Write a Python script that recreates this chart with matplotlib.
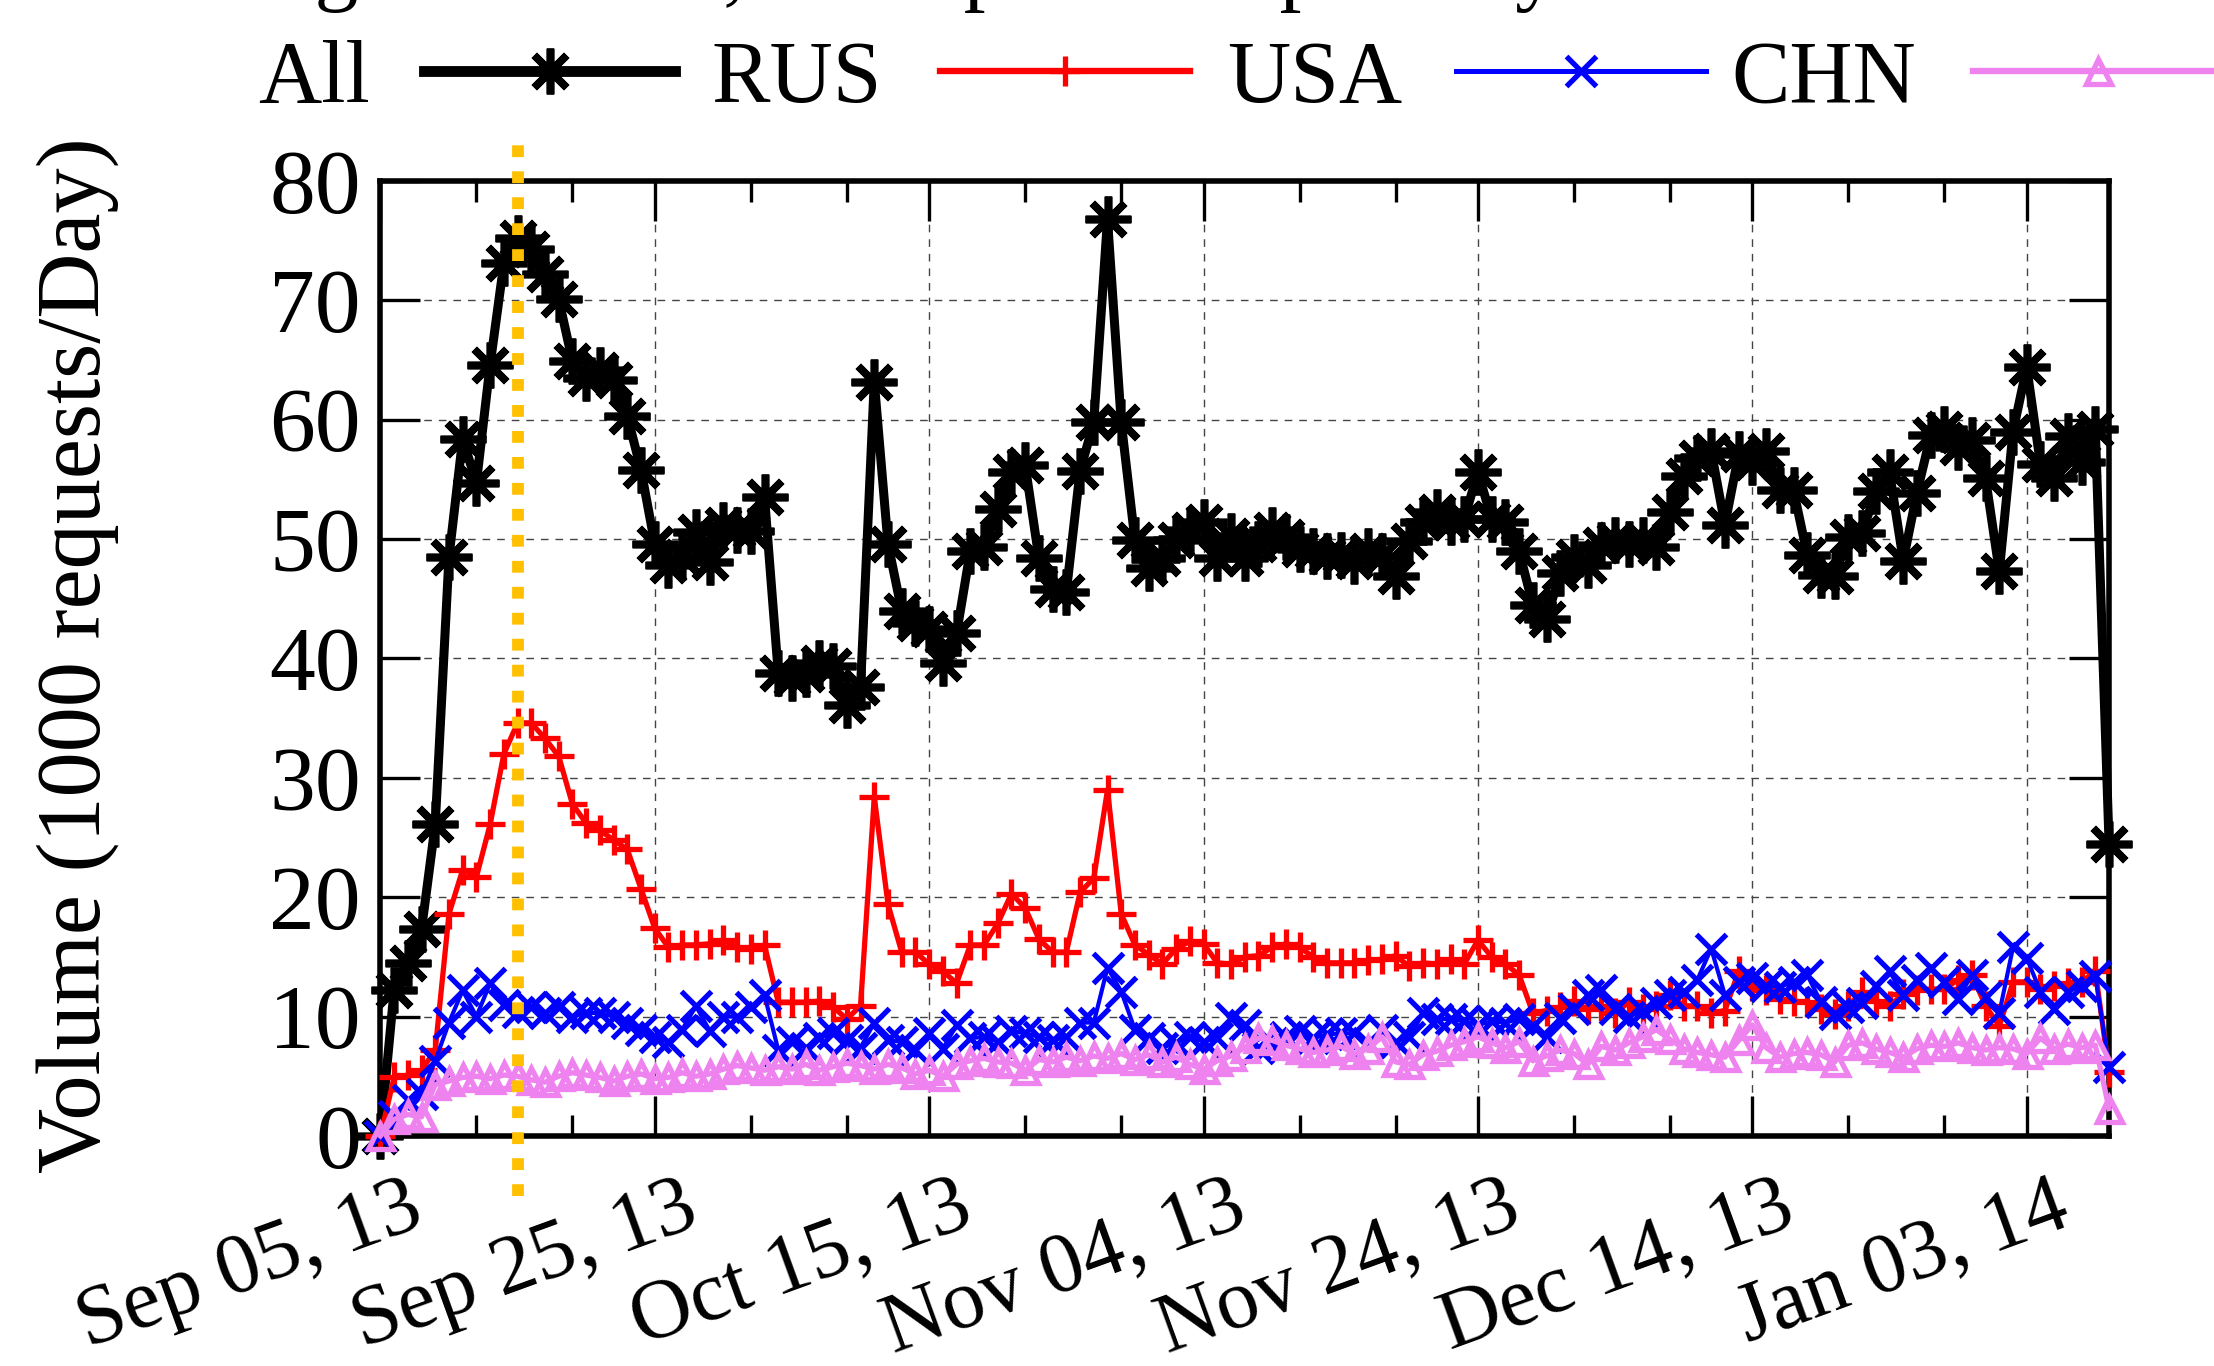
import pandas as pd
import matplotlib
matplotlib.use('Agg')
import matplotlib.pyplot as plt
from matplotlib.lines import Line2D
from matplotlib.transforms import ScaledTranslation

plt.rcParams['font.family'] = ['Liberation Serif', 'DejaVu Serif']

# daily volume, thousands of requests
days = pd.date_range('2013-09-05', '2014-01-09', freq='D')

all_vals = [0, 12.2, 14.5, 17.3, 26.1, 48.5, 58.4, 54.7, 64.6, 73.1,
            75.2, 74.3, 72.2, 70.1, 64.9, 63.5, 64.2, 63.3, 60.3, 55.8,
            49.6, 47.8, 48.5, 50.6, 48.1, 51.2, 50.8, 50.7, 53.5, 38.8,
            38.4, 38.7, 39.6, 39.4, 36.1, 37.6, 63.2, 49.6, 44.0, 43.0,
            42.5, 39.6, 42.1, 49.0, 49.3, 52.5, 55.6, 56.2, 48.4, 45.8,
            45.6, 55.7, 59.8, 76.8, 59.8, 49.9, 47.6, 48.4, 49.9, 50.8,
            51.4, 48.4, 50.3, 48.4, 49.6, 50.8, 50.2, 49.2, 49.0, 48.6,
            48.7, 48.2, 49.0, 48.6, 46.9, 49.8, 51.4, 52.3, 51.4, 51.7,
            55.6, 51.7, 51.4, 49.0, 44.5, 43.3, 47.2, 48.5, 47.8, 49.5,
            49.9, 49.6, 49.9, 49.3, 52.3, 55.3, 56.8, 57.4, 51.2, 57.1,
            56.5, 57.4, 54.1, 54.1, 48.7, 47.0, 46.9, 50.2, 50.5, 54.0,
            55.6, 48.2, 53.9, 58.7, 59.2, 57.7, 58.3, 55.1, 47.3, 59.0,
            64.4, 56.3, 55.1, 58.6, 56.5, 59.2, 24.5]

rus_vals = [0, 4.9, 5.1, 5.5, 7.2, 18.6, 22.3, 21.7, 26.1, 32.0,
            34.6, 34.6, 33.3, 31.8, 27.8, 26.2, 25.6, 24.8, 24.0, 20.7,
            17.4, 15.8, 16.0, 16.0, 16.1, 16.4, 15.8, 15.7, 16.0, 11.2,
            11.2, 11.2, 11.3, 10.8, 9.8, 10.9, 28.4, 19.4, 15.4, 15.4,
            14.4, 13.8, 12.8, 16.0, 16.0, 17.8, 20.3, 19.1, 16.5, 15.4,
            15.4, 20.4, 21.6, 29.0, 18.6, 16.0, 15.2, 14.4, 15.7, 16.3,
            16.1, 14.5, 14.4, 15.0, 15.1, 15.8, 16.1, 15.8, 15.0, 14.5,
            14.5, 14.5, 14.7, 14.8, 15.1, 14.2, 14.5, 14.4, 14.8, 14.4,
            16.4, 15.0, 14.4, 13.5, 10.3, 10.5, 10.8, 11.3, 10.6, 10.9,
            10.3, 11.2, 10.6, 10.9, 11.8, 10.9, 10.9, 10.3, 10.5, 13.8,
            12.6, 12.2, 11.5, 11.3, 11.2, 10.6, 10.2, 10.9, 12.1, 11.3,
            10.9, 11.9, 12.2, 12.3, 12.3, 13.1, 13.5, 10.9, 9.2, 12.9,
            12.9, 12.3, 12.6, 12.8, 12.9, 13.8, 5.4]

usa_vals = [0, 1.7, 3.0, 3.5, 6.3, 9.5, 12.2, 10.0, 12.8, 11.0,
            10.4, 10.8, 10.3, 10.8, 10.0, 10.3, 10.3, 10.0, 9.5, 8.9,
            8.3, 7.9, 8.9, 10.9, 8.8, 10.0, 10.0, 10.8, 11.8, 7.2,
            7.9, 7.4, 8.2, 8.6, 8.0, 7.4, 9.5, 8.0, 7.9, 7.2,
            8.6, 7.3, 9.3, 8.2, 8.3, 7.9, 8.8, 8.6, 8.3, 8.0,
            8.3, 9.5, 9.5, 14.1, 12.1, 8.9, 8.2, 7.4, 7.8, 8.3,
            7.9, 8.2, 9.9, 9.3, 7.4, 7.8, 8.3, 8.8, 8.2, 8.5,
            8.6, 8.6, 7.8, 8.9, 7.9, 8.3, 10.3, 9.8, 9.8, 9.6,
            9.3, 9.6, 9.5, 9.8, 9.2, 8.3, 9.9, 10.6, 11.8, 12.2,
            10.6, 10.0, 10.5, 11.1, 11.8, 12.1, 13.1, 15.7, 11.8, 12.9,
            13.2, 12.6, 12.5, 12.9, 13.5, 11.2, 10.2, 10.8, 11.1, 12.6,
            13.8, 11.8, 13.1, 14.1, 12.9, 11.5, 13.5, 11.6, 10.3, 15.8,
            14.9, 12.1, 10.6, 12.1, 12.6, 13.4, 5.8]

chn_vals = [0, 1.4, 1.8, 1.6, 4.3, 4.6, 4.9, 5.0, 4.8, 5.1,
            5.0, 4.7, 4.5, 5.0, 5.3, 5.1, 4.9, 4.6, 5.0, 5.2,
            4.8, 4.9, 5.3, 5.0, 5.2, 5.6, 5.9, 5.7, 5.5, 5.8,
            5.6, 6.0, 5.5, 5.8, 6.1, 5.9, 5.6, 6.0, 5.7, 5.2,
            5.5, 5.0, 6.0, 6.3, 6.5, 6.2, 6.1, 5.5, 6.4, 6.2,
            6.6, 6.3, 6.7, 6.5, 6.9, 6.4, 6.8, 6.2, 6.6, 6.0,
            5.6, 6.3, 6.7, 7.4, 8.2, 8.0, 7.6, 7.3, 7.0, 7.2,
            7.5, 6.9, 7.3, 8.3, 6.2, 6.0, 6.8, 7.1, 7.6, 7.9,
            8.3, 7.8, 7.4, 7.9, 6.3, 6.7, 7.2, 6.9, 6.0, 7.5,
            7.2, 7.8, 8.3, 8.9, 8.1, 7.3, 7.0, 6.8, 6.6, 8.0,
            9.3, 7.4, 6.6, 6.9, 7.0, 6.8, 6.2, 7.6, 7.8, 7.3,
            7.0, 6.6, 7.3, 7.6, 7.5, 7.8, 7.4, 7.2, 7.4, 7.3,
            6.9, 8.2, 7.3, 7.7, 7.4, 7.6, 2.3]

series_names = ['All', 'RUS', 'USA', 'CHN']
major_days = pd.date_range('2013-09-05', periods=7, freq='20D')
y_ticks = list(range(0, 81, 10))
marked_day = pd.Timestamp('2013-09-15')

minor_days = []
for m in major_days:
    for k in (7, 14):
        d = m + pd.Timedelta(days=k)
        if d <= days[-1]:
            minor_days.append(d)

FS = 63

fig = plt.figure(figsize=(22.14, 13.66), dpi=100)
ax = fig.add_axes([0.1718, 0.1684, 0.9526 - 0.1718, 0.8675 - 0.1684])

styles = [
    dict(color='black', lw=6.5, marker=(8, 2, 0), ms=33, mew=5.5),
    dict(color='#ff0000', lw=3.8, marker='+', ms=21, mew=3.8),
    dict(color='#0000ff', lw=3.0, marker='x', ms=21, mew=3.8),
    dict(color='#ee82ee', lw=3.8, marker='^', ms=18, mew=3.8, mfc='none'),
]
all_series = [all_vals, rus_vals, usa_vals, chn_vals]

for vals, st in zip(all_series, styles):
    ax.plot(days, vals, color=st['color'], lw=st['lw'], marker=st['marker'],
            markersize=st['ms'], markeredgewidth=st['mew'],
            markerfacecolor=st.get('mfc', st['color']), clip_on=False, zorder=3)

# marked day
ax.plot([marked_day, marked_day], [-5, 83.6], color='#ffc000', lw=8.5,
        linestyle=(0, (1.0, 1.2)), clip_on=False, zorder=5)

ax.set_xlim(days[0], days[-1])
ax.set_ylim(0, 80)
ax.set_yticks(y_ticks)
ax.set_yticklabels([str(v) for v in y_ticks], fontsize=66)
ax.set_xticks(major_days)
ax.set_xticklabels([d.strftime('%b %d, %y') for d in major_days], fontsize=61)
ax.set_xticks(minor_days, minor=True)

ax.tick_params(axis='both', which='major', direction='in', length=29, width=2.4,
               top=True, right=True)
ax.tick_params(axis='x', which='minor', direction='in', length=15, width=2.4,
               top=True, bottom=True)
ax.tick_params(axis='y', which='major', pad=14)
ax.tick_params(axis='x', which='major', pad=24)

offset = ScaledTranslation(0.26, 0, fig.dpi_scale_trans)
for lab in ax.get_xticklabels():
    lab.set_rotation(20)
    lab.set_ha('right')
    lab.set_va('top')
    lab.set_rotation_mode('anchor')
    lab.set_transform(lab.get_transform() + offset)

for sp in ax.spines.values():
    sp.set_linewidth(4)

ax.grid(True, which='major', color='#444444', linestyle=(0, (5.5, 5)), linewidth=1.0)
ax.set_axisbelow(True)

fig.text(78 / 2214, 1 - 655 / 1366, 'Volume (1000 requests/Day)', rotation=90,
         ha='center', va='center', fontsize=65)

# title, mostly above the cropped top edge
fig.text(198 / 2214, 1.0044, 'Origin of hosts, the top clients per Day',
         ha='left', va='baseline', fontsize=FS)

# key: label on the left, sample on the right
W, H = 2214.0, 1366.0
key_text_right = [370, 882, 1402, 1916]
key_line = [(424, 675), (940, 1190), (1456, 1706), (1973, 2223)]
y_line = 1 - 71 / H
y_text = 1 - 102 / H
for name, tx, (x0, x1), st in zip(series_names, key_text_right, key_line, styles):
    fig.text(tx / W, y_text, name, ha='right', va='baseline', fontsize=FS)
    fig.add_artist(Line2D([x0 / W, x1 / W], [y_line, y_line], color=st['color'],
                          lw=st['lw'] * 1.2, transform=fig.transFigure))
    fig.add_artist(Line2D([(x0 + x1) / 2 / W], [y_line], color=st['color'], lw=0,
                          marker=st['marker'], markersize=st['ms'],
                          markeredgewidth=st['mew'],
                          markerfacecolor=st.get('mfc', st['color']),
                          transform=fig.transFigure))

fig.savefig('out.png', dpi=100)
